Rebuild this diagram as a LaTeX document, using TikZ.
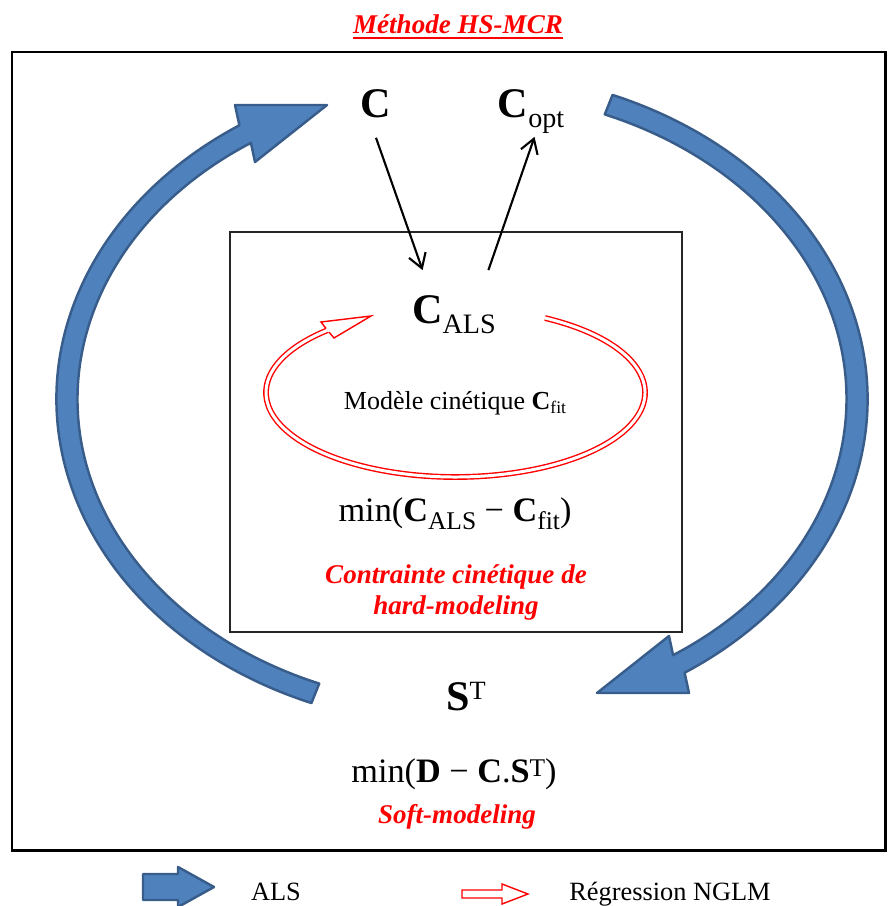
\documentclass[tikz,border=0pt]{standalone}
\usepackage{fontspec}
\setmainfont{Liberation Serif}
\usepackage{xcolor}
\usetikzlibrary{arrows.meta,calc}

\definecolor{alsfill}{HTML}{4F81BD}
\definecolor{alsline}{HTML}{385D8A}

\newcommand{\lowtxt}[3]{\raisebox{-#1}{\fontsize{#2}{#2}\selectfont #3}}
\newcommand{\hightxt}[3]{\raisebox{#1}{\fontsize{#2}{#2}\selectfont #3}}
\newcommand{\ulbox}[1]{\setbox0\hbox{#1}\rlap{\rule[-3.6pt]{\wd0}{1.1pt}}\box0}

\begin{document}
\begin{tikzpicture}[
    x=0.02cm, y=-0.02cm,
    biglbl/.style={anchor=base, inner sep=0pt, font=\fontsize{24}{28}\selectfont\bfseries},
    eqlbl/.style={anchor=base, inner sep=0pt, font=\fontsize{19.5}{23}\selectfont},
    redlbl/.style={anchor=base, inner sep=0pt, text=red, align=center,
                   font=\fontsize{15.4}{17.6}\selectfont\bfseries\itshape},
    leglbl/.style={anchor=base, inner sep=0pt, font=\fontsize{15}{18}\selectfont},
    arr/.style={-{Straight Barb[length=8pt, width=10pt]}, line width=1.2pt},
    alsarrow/.style={fill=alsfill, draw=alsline, line width=1.4pt, line join=round},
    nglm/.style={draw=red, double=white, line width=0.8pt, double distance=1.7pt},
    nglmhead/.style={draw=red, fill=white, line width=0.8pt}
  ]
  \useasboundingbox (0,0) rectangle (895,906);

  %% ── frames ──────────────────────────────────────────────────────────
  \node[redlbl] (title) at (458,33) {\ulbox{Méthode HS-MCR}};
  \draw[line width=1.7pt] (12,52) rectangle (885,850);
  \draw[line width=0.85pt, black!85] (230,232) rectangle (682,632);

  %% ── ALS loop (big blue arrows) ──────────────────────────────────────
  \coordinate (ctr) at (462,399);
  \filldraw[alsarrow]
    ($(ctr)+(111.8:405.5 and 327.5)$)
      arc[start angle=111.8, end angle=236.7, x radius=405.5, y radius=327.5]
    -- (235,105) -- (327,105) -- (255,162)
    -- ($(ctr)+(236.7:384.5 and 306.5)$)
      arc[start angle=236.7, end angle=111.8, x radius=384.5, y radius=306.5]
    -- cycle;
  \begin{scope}[rotate around={180:(ctr)}]
    \filldraw[alsarrow]
      ($(ctr)+(111.8:405.5 and 327.5)$)
        arc[start angle=111.8, end angle=236.7, x radius=405.5, y radius=327.5]
      -- (235,105) -- (327,105) -- (255,162)
      -- ($(ctr)+(236.7:384.5 and 306.5)$)
        arc[start angle=236.7, end angle=111.8, x radius=384.5, y radius=306.5]
      -- cycle;
  \end{scope}

  %% ── labels ──────────────────────────────────────────────────────────
  \node[biglbl] (C)    at (376,117) {C};
  \node[biglbl] (Copt) at (531,117) {C\lowtxt{5.7pt}{16}{\mdseries opt}};
  \node[biglbl] (CALS) at (454,323) {C\lowtxt{5.7pt}{16}{\mdseries ALS}};
  \node[anchor=base, inner sep=0pt, font=\fontsize{14.8}{18}\selectfont] (model)
                       at (455,409) {Modèle cinétique \textbf{C}\lowtxt{2.3pt}{10}{fit}};
  \node[eqlbl] (mincfit) at (455,521)
        {min(\textbf{C}\lowtxt{4.8pt}{14.5}{ALS} − \textbf{C}\lowtxt{4.8pt}{14.5}{fit})};
  \node[redlbl, anchor=north] (hard) at (456,564) {Contrainte cinétique de\\hard-modeling};
  \node[biglbl] (ST)   at (466,710) {S\hightxt{6pt}{15}{\mdseries T}};
  \node[eqlbl] (minds) at (454,782)
        {min(\textbf{D} − \textbf{C}.\textbf{S}\hightxt{3.2pt}{14.5}{T})};
  \node[redlbl] (soft) at (457,823) {Soft-modeling};

  \draw[arr] ([yshift=-11.4pt]C.south) -- ([xshift=6.1pt, yshift=14pt]CALS.north west);
  \draw[arr] ([xshift=-4.4pt, yshift=14pt]CALS.north east) -- ([xshift=2pt, yshift=-2pt]Copt.south);

  %% ── NGLM loop (red double arrow) ────────────────────────────────────
  \coordinate (ectr) at (455.5,392.5);
  \draw[nglm] ($(ectr)+(-61.8:189.5 and 84.5)$)
      arc[start angle=-61.8, end angle=227.5, x radius=189.5, y radius=84.5];
  \filldraw[nglmhead] (326.1,328.5) -- (321,322) -- (371,316) -- (334,338) -- (328.9,332);

  %% ── legend ──────────────────────────────────────────────────────────
  \filldraw[alsarrow] (143,874) -- (178,874) -- (178,867) -- (214,887)
                      -- (178,907) -- (178,900) -- (143,900) -- cycle;
  \node[leglbl] (alskey) at (276,900) {ALS};
  \filldraw[nglmhead] (462,890) -- (502,890) -- (502,884) -- (528,894)
                      -- (502,904) -- (502,898) -- (462,898) -- cycle;
  \node[leglbl] (nglmkey) at (670,900) {Régression NGLM};

\end{tikzpicture}
\end{document}
